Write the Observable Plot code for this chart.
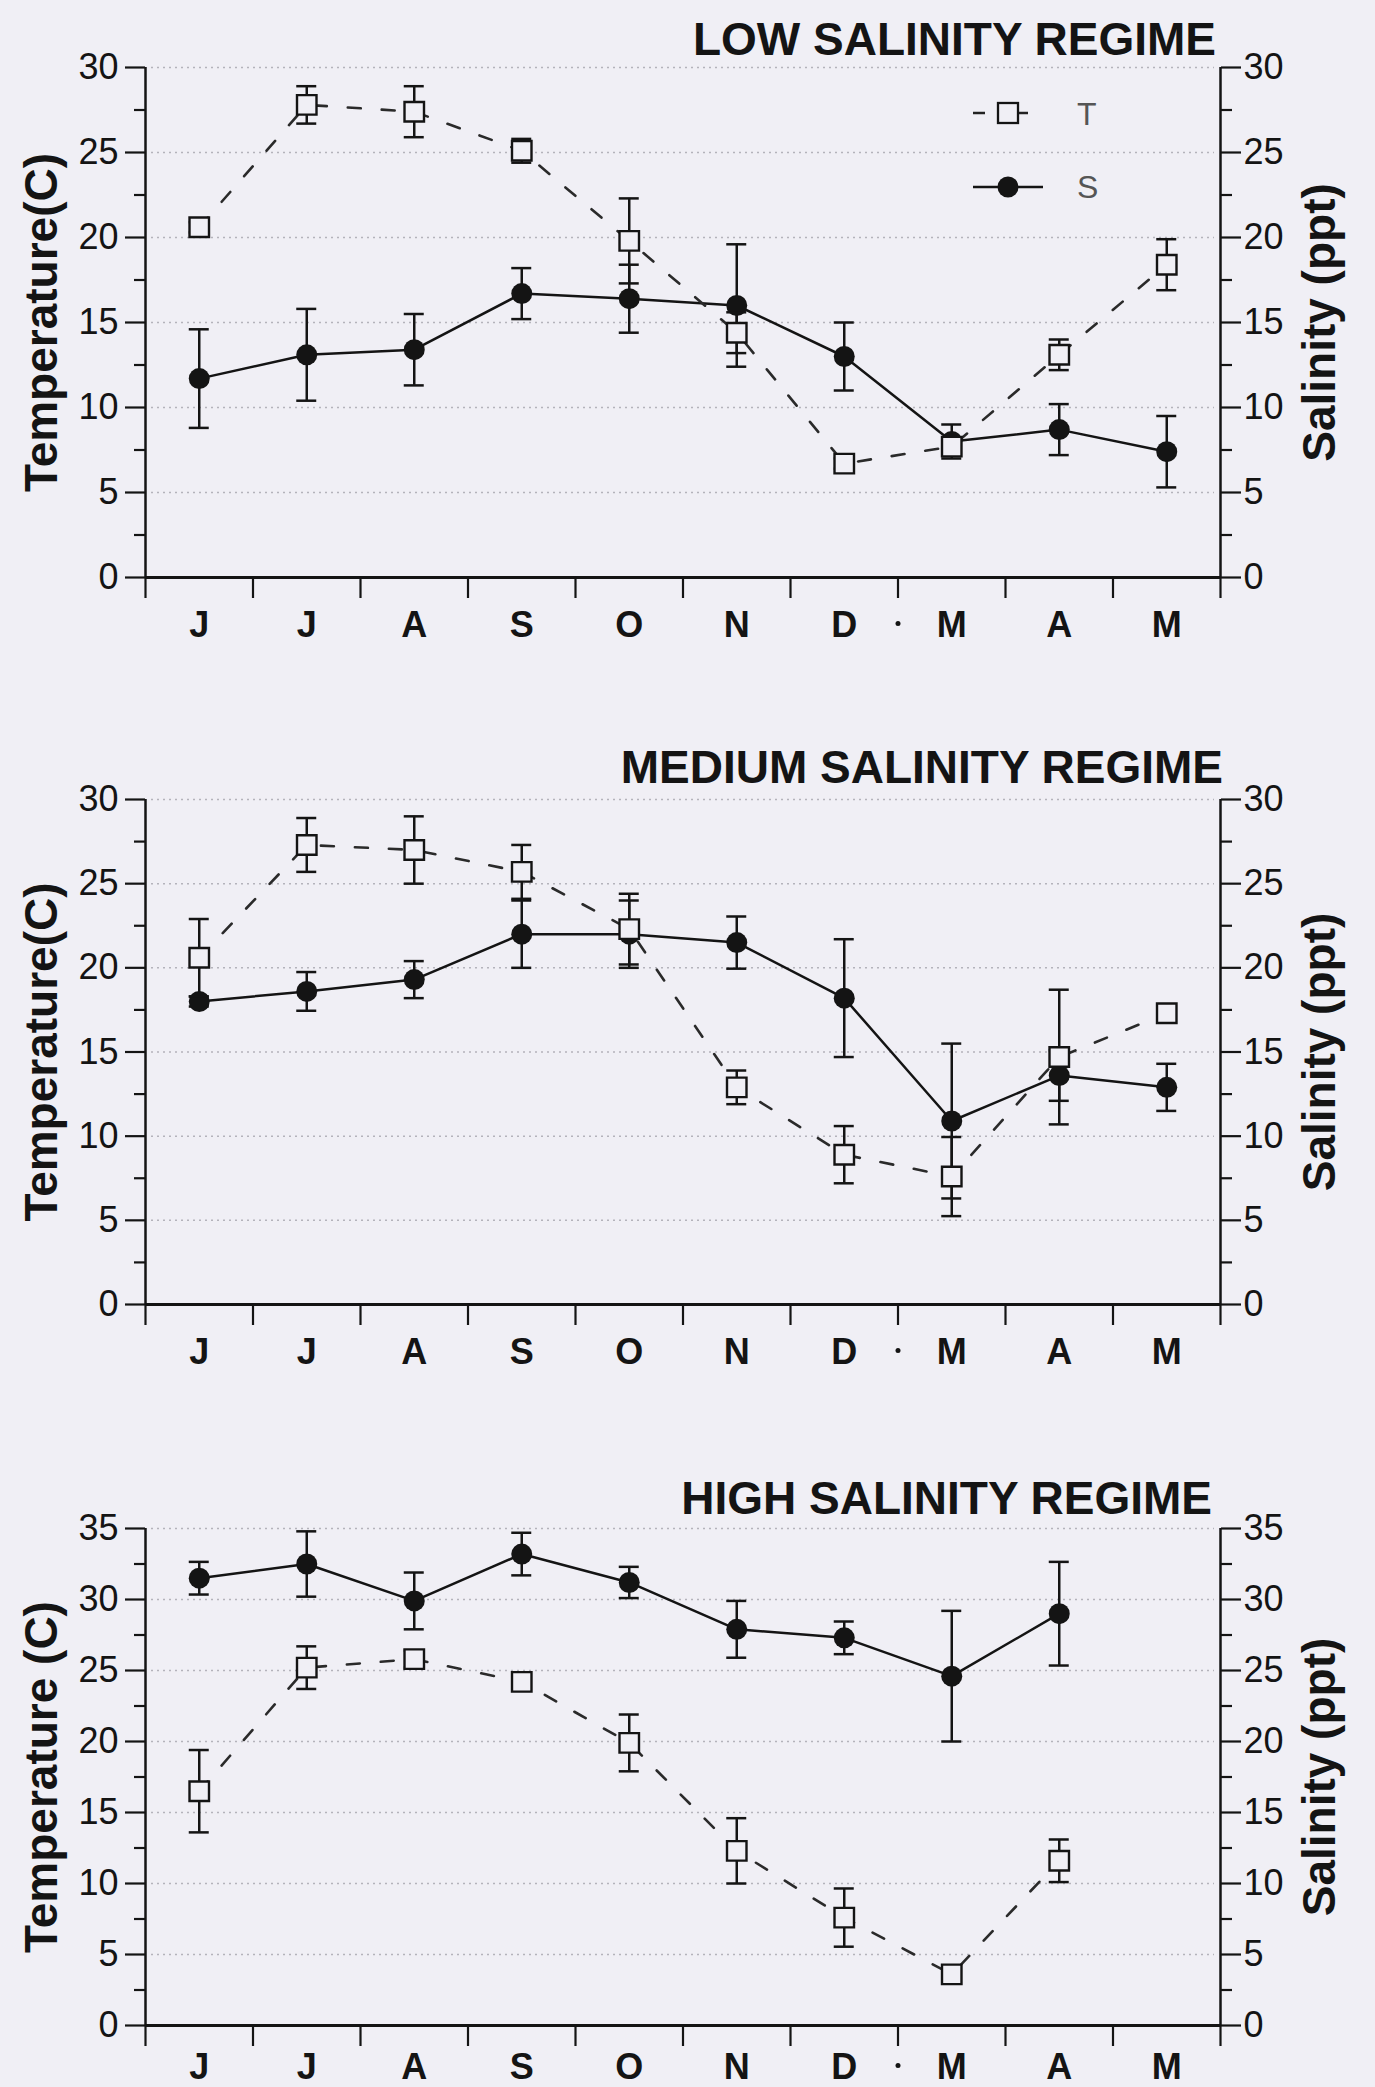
<!DOCTYPE html>
<html><head><meta charset="utf-8">
<script src="https://cdn.jsdelivr.net/npm/d3@7"></script>
<script src="https://cdn.jsdelivr.net/npm/@observablehq/plot@0.6"></script>
<style>
html,body{margin:0;padding:0;background:#f0eff5;}
#page{position:relative;width:1375px;height:2087px;background:#f0eff5;overflow:hidden;font-family:"Liberation Sans",Arial,sans-serif;}
.panel{position:absolute;left:0;}
#overlay{position:absolute;left:0;top:0;pointer-events:none;}
</style></head><body><div id="page"></div>
<script>
// ---- data ----
const months = ["Jun","Jul","Aug","Sep","Oct","Nov","Dec","Mar","Apr","May"];
const monthLabels = ["J","J","A","S","O","N","D","M","A","M"];

const lowT    = [20.6, 27.8, 27.4, 25.1, 19.8, 14.4, 6.7, 7.7, 13.1, 18.4];
const lowTerr = [0.3, 1.1, 1.5, 0.7, 2.5, 1.2, 0.3, 0.5, 0.9, 1.5];
const lowS    = [11.7, 13.1, 13.4, 16.7, 16.4, 16.0, 13.0, 8.0, 8.7, 7.4];
const lowSerr = [2.9, 2.7, 2.1, 1.5, 2.0, 3.6, 2.0, 1.0, 1.5, 2.1];

const medT    = [20.6, 27.3, 27.0, 25.7, 22.3, 12.9, 8.9, 7.6, 14.7, 17.3];
const medTerr = [2.3, 1.6, 2.0, 1.6, 2.1, 1.0, 1.7, 2.35, 4.0, 0.3];
const medS    = [18.0, 18.6, 19.3, 22.0, 22.0, 21.5, 18.2, 10.9, 13.6, 12.9];
const medSerr = [0.3, 1.15, 1.1, 2.0, 2.0, 1.55, 3.5, 4.6, 1.5, 1.4];

const highT    = [16.5, 25.2, 25.8, 24.2, 19.9, 12.3, 7.6, 3.6, 11.6, null];
const highTerr = [2.9, 1.5, 0.6, 0.4, 2.0, 2.3, 2.05, 0.4, 1.5, null];
const highS    = [31.5, 32.5, 29.9, 33.2, 31.2, 27.9, 27.3, 24.6, 29.0, null];
const highSerr = [1.15, 2.3, 2.0, 1.5, 1.1, 2.0, 1.15, 4.6, 3.65, null];

const titles = ["LOW SALINITY REGIME", "MEDIUM SALINITY REGIME", "HIGH SALINITY REGIME"];
const tempLabels = ["Temperature(C)", "Temperature(C)", "Temperature (C)"];
const salLabel = "Salinity (ppt)";
const legendLabels = ["T", "S"];

// ---- layout ----
const W = 1375, BG = "#f0eff5", INK = "#141414";
const FONT = "'Liberation Sans', Arial, Helvetica, sans-serif";
const page = document.getElementById("page");

function rows(vals, errs) {
  return months.map((m, i) => ({i, x: i + 0.5, month: m, v: vals[i], e: errs[i]}))
    .filter(d => d.v != null);
}

function panel(cfg) {
  const T = rows(cfg.T, cfg.Terr), S = rows(cfg.S, cfg.Serr);
  const yMax = cfg.yMax;
  const major = d3.range(0, yMax + 0.1, 5);
  const minor = d3.range(2.5, yMax, 5);
  const chart = Plot.plot({
    width: W, height: cfg.height,
    marginLeft: 145, marginRight: 155, marginTop: cfg.marginTop, marginBottom: cfg.marginBottom,
    style: {background: "transparent", fontFamily: FONT, color: INK, overflow: "visible"},
    x: {domain: [0, 10]},
    y: {domain: [0, yMax]},
    marks: [
      Plot.ruleY(major.filter(v => v > 0), {stroke: "#b4b3bb", strokeWidth: 1.5, strokeDasharray: "2,4", insetLeft: 6, insetRight: 6}),
      // left axis
      Plot.axisY(major, {anchor: "left", tickSize: 20, tickPadding: 7, fontSize: 36, strokeWidth: 2.2, label: null}),
      Plot.axisY(minor, {anchor: "left", tickSize: 11, tickFormat: () => "", strokeWidth: 2.2, label: null}),
      Plot.axisY([], {anchor: "left", label: cfg.yLabel, labelArrow: "none", labelAnchor: "center", labelOffset: 121, fontSize: 46, fontWeight: "bold", tickSize: 0}),
      // right axis
      Plot.axisY(major, {anchor: "right", tickSize: 20, tickPadding: 3, fontSize: 36, strokeWidth: 2.2, label: null}),
      Plot.axisY(minor, {anchor: "right", tickSize: 11, tickFormat: () => "", strokeWidth: 2.2, label: null}),
      Plot.axisY([], {anchor: "right", label: salLabel, labelArrow: "none", labelAnchor: "center", labelOffset: 114, fontSize: 46, fontWeight: "bold", tickSize: 0}),
      // frame lines
      Plot.ruleX([0, 10], {y1: 0, y2: yMax, strokeWidth: 2.5, stroke: INK}),
      Plot.ruleY([0], {strokeWidth: 3, stroke: INK}),
      // x axis: band boundary ticks + month letters
      Plot.axisX(d3.range(0, 11), {tickSize: 21, tickFormat: () => "", strokeWidth: 2.2, label: null}),
      Plot.axisX(months.map((m, i) => i + 0.5), {tickSize: 0, tickPadding: cfg.labelPad, tickFormat: d => monthLabels[Math.floor(d)], fontSize: 36, fontWeight: "bold", label: null}),
      Plot.dot([7], {x: d => d, y: () => 0, dy: cfg.labelPad + 12, r: 2.5, fill: INK, stroke: null}),
      // salinity
      Plot.line(S, {x: "x", y: "v", stroke: INK, strokeWidth: 2.5}),
      Plot.ruleX(S, {x: "x", y1: d => d.v - d.e, y2: d => d.v + d.e, stroke: INK, strokeWidth: 2.5}),
      Plot.ruleY(S, {x1: "x", x2: "x", y: d => d.v + d.e, insetLeft: -10, insetRight: -10, stroke: INK, strokeWidth: 2.5}),
      Plot.ruleY(S, {x1: "x", x2: "x", y: d => d.v - d.e, insetLeft: -10, insetRight: -10, stroke: INK, strokeWidth: 2.5}),
      Plot.dot(S, {x: "x", y: "v", r: 10.5, fill: INK, stroke: null}),
      // temperature
      Plot.line(T, {x: "x", y: "v", stroke: "#2a2a2a", strokeWidth: 2.6, strokeDasharray: "13,21"}),
      Plot.ruleX(T, {x: "x", y1: d => d.v - d.e, y2: d => d.v + d.e, stroke: INK, strokeWidth: 2.5}),
      Plot.ruleY(T, {x1: "x", x2: "x", y: d => d.v + d.e, insetLeft: -10, insetRight: -10, stroke: INK, strokeWidth: 2.5}),
      Plot.ruleY(T, {x1: "x", x2: "x", y: d => d.v - d.e, insetLeft: -10, insetRight: -10, stroke: INK, strokeWidth: 2.5}),
      Plot.dot(T, {x: "x", y: "v", symbol: "square", r: 11, fill: BG, stroke: INK, strokeWidth: 2.4})
    ]
  });
  const wrap = document.createElement("div");
  wrap.className = "panel";
  wrap.style.top = cfg.top + "px";
  wrap.appendChild(chart);
  page.appendChild(wrap);
}

const cfgs = [
  {T: lowT, Terr: lowTerr, S: lowS, Serr: lowSerr, yMax: 30, yLabel: tempLabels[0], top: 0, height: 660, marginTop: 67, marginBottom: 83, labelPad: 34},
  {T: medT, Terr: medTerr, S: medS, Serr: medSerr, yMax: 30, yLabel: tempLabels[1], top: 740, height: 640, marginTop: 59, marginBottom: 76, labelPad: 34},
  {T: highT, Terr: highTerr, S: highS, Serr: highSerr, yMax: 35, yLabel: tempLabels[2], top: 1440, height: 647, marginTop: 88, marginBottom: 62, labelPad: 28}
];
cfgs.forEach(panel);

// ---- titles and legend overlay ----
const ns = "http://www.w3.org/2000/svg";
const ov = document.createElementNS(ns, "svg");
ov.setAttribute("id", "overlay");
ov.setAttribute("width", W); ov.setAttribute("height", 2087);
function el(tag, attrs, text) {
  const e = document.createElementNS(ns, tag);
  for (const k in attrs) e.setAttribute(k, attrs[k]);
  if (text != null) e.textContent = text;
  ov.appendChild(e); return e;
}
const titlePos = [[1216, 55], [1223, 783], [1212, 1514]];
titles.forEach((t, k) => el("text", {x: titlePos[k][0], y: titlePos[k][1], "text-anchor": "end", "font-family": FONT, "font-size": 46, "font-weight": "bold", fill: INK}, t));
// legend (panel 1)
el("line", {x1: 973, x2: 985, y1: 113, y2: 113, stroke: "#222", "stroke-width": 2.5});
el("line", {x1: 1018, x2: 1028, y1: 113, y2: 113, stroke: "#222", "stroke-width": 2.5});
el("rect", {x: 998, y: 103, width: 20, height: 20, fill: BG, stroke: INK, "stroke-width": 2.3});
el("text", {x: 1077, y: 125, "font-family": FONT, "font-size": 32, fill: "#555"}, legendLabels[0]);
el("line", {x1: 973, x2: 1043, y1: 187, y2: 187, stroke: INK, "stroke-width": 2.5});
el("circle", {cx: 1008, cy: 187, r: 10.5, fill: INK});
el("text", {x: 1077, y: 198, "font-family": FONT, "font-size": 32, fill: "#555"}, legendLabels[1]);
page.appendChild(ov);
</script></body></html>
